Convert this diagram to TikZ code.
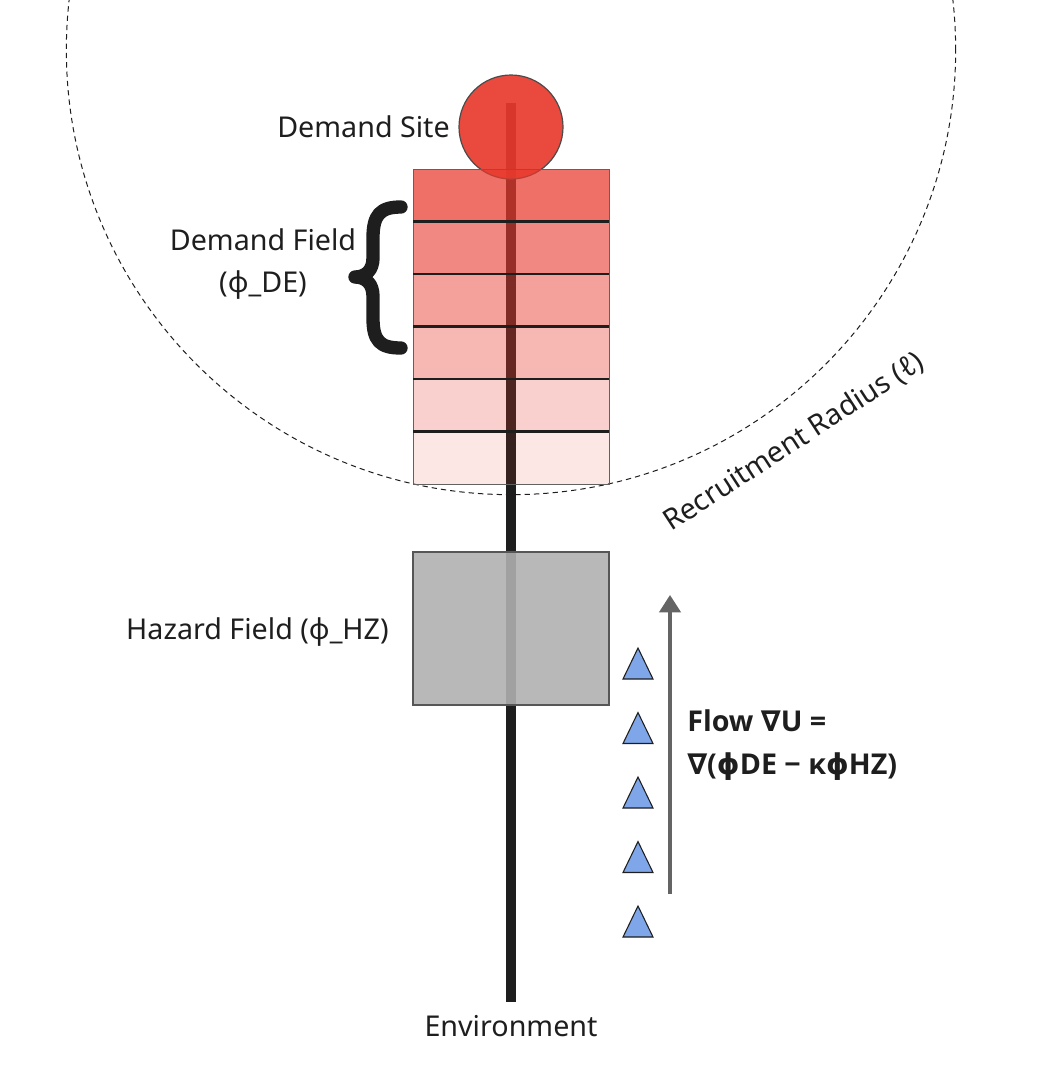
\documentclass[tikz,border=0pt]{standalone}
\usepackage{fontspec}
\setmainfont{Noto Sans}
\newfontfamily\flowfont{Open Sans}
\newfontfamily\symfont{DejaVu Sans}
\newcommand{\nab}{{\symfont\bfseries ∇}}
\newcommand{\phib}{{\symfont\bfseries ϕ}}
\usetikzlibrary{arrows.meta}
\definecolor{sitered}{RGB}{232,57,45}
\definecolor{triblue}{RGB}{126,166,232}
\definecolor{hzgray}{RGB}{176,176,176}
\definecolor{ink}{RGB}{30,30,30}
\definecolor{flowgray}{RGB}{100,100,100}
\begin{document}
\begin{tikzpicture}[x=0.75pt,y=-0.75pt,
  lbl/.style={font=\fontsize{21.5}{31.5}\selectfont, text=ink, inner sep=0pt},
  flowlbl/.style={font=\flowfont\fontsize{21.5}{32.25}\selectfont\bfseries, text=ink, inner sep=0pt},
  band/.style={draw=ink!70, line width=0.75pt, fill=sitered, minimum width=147pt, minimum height=39.375pt, inner sep=0pt, outer sep=0pt},
  sepline/.style={draw=ink, line width=1.6pt},
  hazard/.style={draw=ink!75, line width=0.9pt, fill=hzgray, fill opacity=0.9, minimum width=147pt, minimum height=114.75pt, inner sep=0pt, outer sep=0pt},
  spine/.style={draw=ink, line width=7.5pt},
  tri/.style={draw=ink, line width=0.8pt, fill=triblue, line join=miter},
  flowarrow/.style={draw=flowgray, line width=2.4pt, -{Triangle[width=16pt,length=13pt]}},
  radring/.style={draw=ink, line width=0.75pt, dash pattern=on 4pt off 3pt}
]
\useasboundingbox (0,0) rectangle (1056,1086);
\begin{scope}
\clip (0,0) rectangle (1056,1086);
% recruitment radius
\draw[radring] (511,50) circle[radius=333.5pt];
\end{scope}
% spine
\coordinate (top) at (511,103);
\coordinate (bottom) at (511,1002);
\draw[spine] (top) -- (bottom);
% demand site
\node[circle, draw=ink!80, line width=0.9pt, fill=sitered, fill opacity=0.92, minimum size=78pt, inner sep=0pt] (site) at (511,127) {};
% demand field bands
\node[band, fill opacity=0.72] (b1) at (511,195.25) {};
\node[band, fill opacity=0.60] (b2) at (511,247.75) {};
\node[band, fill opacity=0.48] (b3) at (511,300.25) {};
\node[band, fill opacity=0.36] (b4) at (511,352.75) {};
\node[band, fill opacity=0.24] (b5) at (511,405.25) {};
\node[band, fill opacity=0.12] (b6) at (511,457.75) {};
\foreach \b in {b1,b2,b3,b4,b5} \draw[sepline] (\b.south west) -- (\b.south east);
% brace
\draw[ink, line width=10pt, line cap=round, line join=round]
  (401,207) .. controls (380,207) and (373,215) .. (373,238) -- (373,258)
  .. controls (373,270) and (366,277) .. (355,277)
  .. controls (366,277) and (373,284) .. (373,296) -- (373,318)
  .. controls (373,341) and (380,348) .. (401,348);
% hazard
\node[hazard] (hz) at (511,628.5) {};
% flow arrow
\coordinate (flowstart) at (670,894);
\coordinate (flowend) at (670,595);
\draw[flowarrow] (flowstart) -- (flowend);
% triangles
\foreach \t in {648,712.5,777,841.5,906}
  \draw[tri] (638,\t) -- (653,\t+31) -- (623,\t+31) -- cycle;
% labels
\node[lbl, anchor=east] (sitelbl) at (450,127) {Demand Site};
\node[lbl, align=center] (dflbl) at (263,264) {Demand Field\\(ϕ\_DE)};
\node[lbl, anchor=east] (hzlbl) at (389,632) {Hazard Field (ϕ\_HZ)};
\node[lbl] (envlbl) at (511,1026) {Environment};
\node[lbl, rotate=33] (radlbl) at (794,442) {Recruitment Radius (ℓ)};
\node[flowlbl, anchor=west, align=left] (flowlbl) at (687,745) {Flow \nab U =\\\nab(\phib DE − κ\phib HZ)};
\end{tikzpicture}
\end{document}
